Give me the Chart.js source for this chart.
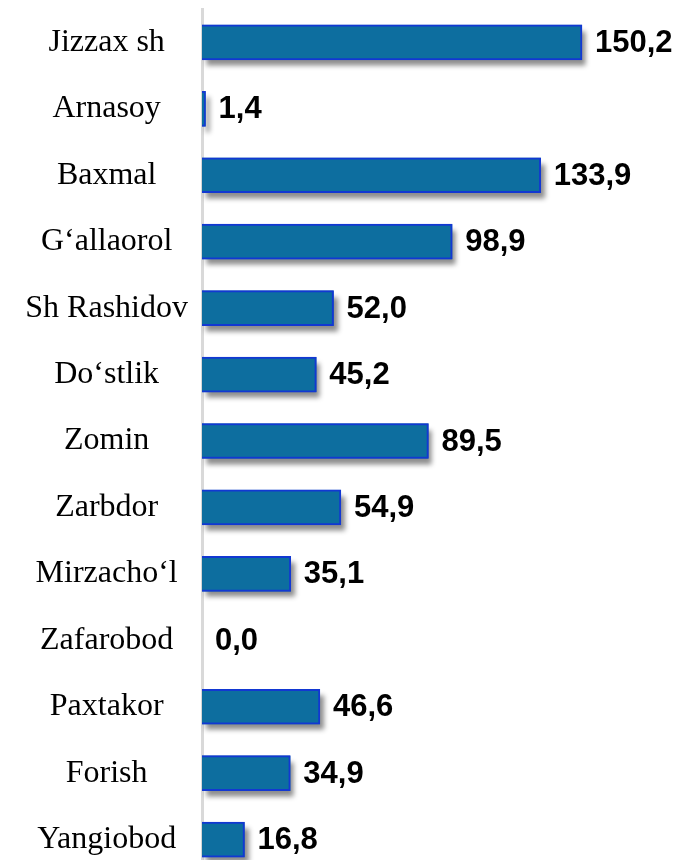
<!DOCTYPE html>
<html>
<head>
<meta charset="utf-8">
<script src="https://cdn.jsdelivr.net/npm/chart.js@4/dist/chart.umd.min.js"></script>
<style>
  html, body { margin: 0; padding: 0; background: #fff; overflow: hidden; }
  canvas { display: block; margin-top: -5px; }
</style>
</head>
<body>
<canvas id="districtChart" width="680" height="892"></canvas>
<script>
// District names and values
const districts = ['Jizzax sh', 'Arnasoy', 'Baxmal', 'G\u2018allaorol', 'Sh Rashidov', 'Do\u2018stlik',
    'Zomin', 'Zarbdor', 'Mirzacho\u2018l', 'Zafarobod', 'Paxtakor', 'Forish', 'Yangiobod'];
const values = [150.2, 1.4, 133.9, 98.9, 52.0, 45.2, 89.5, 54.9, 35.1, 0.0, 46.6, 34.9, 16.8];

// drop shadow under the bars (drawn separately, the bar element clips its own shadow)
const barShadow = {
    id: 'barShadow',
    beforeDatasetsDraw(chart) {
        const ctx = chart.ctx;
        const meta = chart.getDatasetMeta(0);
        ctx.save();
        ctx.shadowColor = 'rgba(0, 0, 0, 0.45)';
        ctx.shadowOffsetX = 4;
        ctx.shadowOffsetY = 6;
        ctx.shadowBlur = 5;
        ctx.fillStyle = '#0D6E9F';
        meta.data.forEach(bar => {
            const w = bar.x - bar.base;
            if (w <= 0) return;
            ctx.fillRect(bar.base, bar.y - bar.height / 2, w, bar.height);
        });
        ctx.restore();
    }
};

// value labels to the right of each bar
const valueLabels = {
    id: 'valueLabels',
    afterDraw(chart) {
        const ctx = chart.ctx;
        const meta = chart.getDatasetMeta(0);
        ctx.save();
        ctx.font = 'bold 31px "Liberation Sans", Arial, sans-serif';
        ctx.fillStyle = '#000';
        ctx.textAlign = 'left';
        ctx.textBaseline = 'middle';
        meta.data.forEach((bar, i) => {
            const txt = values[i].toFixed(1).replace('.', ',');
            ctx.fillText(txt, bar.x + 13, bar.y + 1);
        });
        ctx.restore();
    }
};

const ctx = document.getElementById('districtChart').getContext('2d');
new Chart(ctx, {
    type: 'bar',
    data: {
        labels: districts,
        datasets: [{
            data: values,
            backgroundColor: '#0D6E9F',
            borderColor: '#1238D2',
            borderWidth: 2,
            barThickness: 35
        }]
    },
    options: {
        indexAxis: 'y',
        responsive: false,
        animation: false,
        layout: { padding: { top: 4.5, right: 22.6, bottom: 0, left: 0 } },
        plugins: {
            legend: { display: false },
            tooltip: { enabled: false }
        },
        scales: {
            x: {
                display: false,
                min: 0,
                max: 180
            },
            y: {
                afterFit(scale) { scale.width = 202; },
                grid: { display: false, drawTicks: false },
                border: { display: true, color: '#d9d9d9', width: 3 },
                ticks: {
                    crossAlign: 'center',
                    padding: 14,
                    color: '#000',
                    font: { family: '"Liberation Serif", "Times New Roman", serif', size: 32, lineHeight: 0.01 }
                }
            }
        }
    },
    plugins: [barShadow, valueLabels]
});
</script>
</body>
</html>
